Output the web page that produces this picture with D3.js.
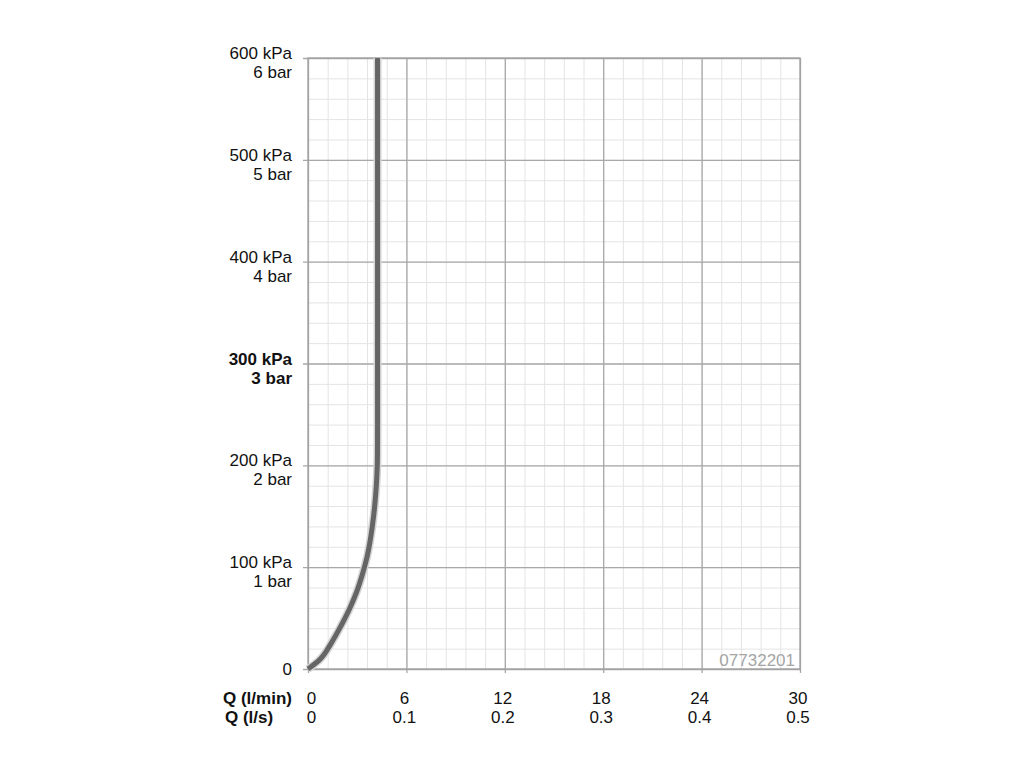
<!DOCTYPE html>
<html>
<head>
<meta charset="utf-8">
<script src="https://cdn.jsdelivr.net/npm/d3@7"></script>
<style>
  html, body { margin: 0; padding: 0; background: #fff; }
  svg { display: block; font-family: "Liberation Sans", Arial, Helvetica, sans-serif; }
</style>
</head>
<body>
<svg id="chart" width="1024" height="768"></svg>
<script>
// ---- data ----
const flowLmin    = [0, 0.7, 1.4, 2.0, 2.5, 2.95, 3.3, 3.6, 3.83, 4.0, 4.12, 4.2, 4.235, 4.24, 4.24];
const pressureKPa = [0, 9, 25, 42, 58, 75, 92, 110, 130, 150, 170, 190, 210, 240, 600];

const yTicks     = [0, 100, 200, 300, 400, 500, 600];
const yKPaLabels = ["0", "100 kPa", "200 kPa", "300 kPa", "400 kPa", "500 kPa", "600 kPa"];
const yBarLabels = ["", "1 bar", "2 bar", "3 bar", "4 bar", "5 bar", "6 bar"];
const yBold      = [false, false, false, true, false, false, false];

const xTicks      = [0, 6, 12, 18, 24, 30];
const xLminLabels = ["0", "6", "12", "18", "24", "30"];
const xLsLabels   = ["0", "0.1", "0.2", "0.3", "0.4", "0.5"];
const xTitles     = ["Q (l/min)", "Q (l/s)"];
const codeLabel   = "07732201";

// ---- layout ----
const L = 308, R = 800, T = 58, B = 669;
const svg = d3.select("#chart");
const x = d3.scaleLinear().domain([0, 30]).range([L, R]);
const y = d3.scaleLinear().domain([0, 600]).range([B, T]);

// minor grid
const xMinor = d3.range(0, 30.001, 1.2);
const yMinor = d3.range(0, 600.001, 20);
const gMinor = svg.append("g").attr("transform", `translate(${L},0)`)
  .call(d3.axisLeft(y).tickValues(yMinor).tickSize(-(R - L)).tickFormat(""));
const gMinorX = svg.append("g").attr("transform", `translate(0,${B})`)
  .call(d3.axisBottom(x).tickValues(xMinor).tickSize(-(B - T)).tickFormat(""));
[gMinor, gMinorX].forEach(g => {
  g.select(".domain").remove();
  g.selectAll("line").attr("stroke", "#e4e4e4").attr("stroke-width", 1);
});

// major grid (extend past axes as tick marks)
const gMajY = svg.append("g").attr("transform", `translate(${R},0)`)
  .call(d3.axisLeft(y).tickValues(yTicks).tickSize(R - L + 5).tickFormat(""));
const gMajX = svg.append("g").attr("transform", `translate(0,${T})`)
  .call(d3.axisBottom(x).tickValues(xTicks).tickSize(B - T + 4).tickFormat(""));
[gMajY, gMajX].forEach(g => {
  g.select(".domain").remove();
  g.selectAll("line").attr("stroke", "#a8a8a8").attr("stroke-width", 1.3);
});

// border
svg.append("rect").attr("x", L).attr("y", T).attr("width", R - L).attr("height", B - T)
  .attr("fill", "none").attr("stroke", "#a0a0a0").attr("stroke-width", 1.3);

// curve
const pts = flowLmin.map((f, i) => [f, pressureKPa[i]]);
const line = d3.line().x(d => x(d[0])).y(d => y(d[1])).curve(d3.curveMonotoneY);
svg.append("path").attr("d", line(pts)).attr("fill", "none")
  .attr("stroke", "#d4d4d4").attr("stroke-width", 8);
svg.append("path").attr("d", line(pts)).attr("fill", "none")
  .attr("stroke", "#656565").attr("stroke-width", 5);

// y labels
const fs = 17;
const ink = "#111";
yTicks.forEach((v, i) => {
  const t = svg.append("text").attr("text-anchor", "end").attr("x", 292)
    .attr("font-size", fs).attr("fill", ink)
    .attr("font-weight", yBold[i] ? "bold" : "normal");
  if (yBarLabels[i] === "") {
    t.attr("y", y(v) + 6).text(yKPaLabels[i]);
  } else {
    t.attr("y", y(v) + 1).text(yKPaLabels[i]);
    svg.append("text").attr("text-anchor", "end").attr("x", 292)
      .attr("y", y(v) + 20).attr("font-size", fs).attr("fill", ink)
      .attr("font-weight", yBold[i] ? "bold" : "normal").text(yBarLabels[i]);
  }
});

// x labels
xTicks.forEach((v, i) => {
  const cx = i === 0 ? x(v) + 3.5 : x(v) - 2;
  svg.append("text").attr("text-anchor", "middle").attr("x", cx).attr("y", 704)
    .attr("font-size", fs).attr("fill", ink).text(xLminLabels[i]);
  svg.append("text").attr("text-anchor", "middle").attr("x", cx).attr("y", 723)
    .attr("font-size", fs).attr("fill", ink).text(xLsLabels[i]);
});
svg.append("text").attr("x", 223).attr("y", 704).attr("font-size", fs)
  .attr("font-weight", "bold").attr("fill", ink).text(xTitles[0]);
svg.append("text").attr("x", 225).attr("y", 723).attr("font-size", fs)
  .attr("font-weight", "bold").attr("fill", ink).text(xTitles[1]);

// code
svg.append("text").attr("text-anchor", "end").attr("x", 795).attr("y", 666)
  .attr("font-size", 17).attr("fill", "#a5a5a5").text(codeLabel);
</script>
</body>
</html>
